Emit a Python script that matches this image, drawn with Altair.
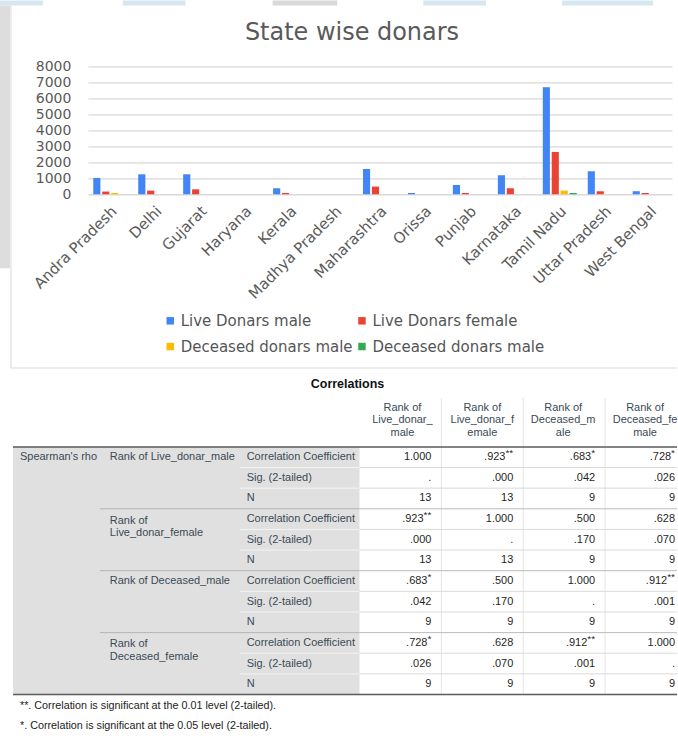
import altair as alt
import pandas as pd

# ---------------------------------------------------------------
# Bar chart: state wise donors
# ---------------------------------------------------------------
states = ["Andra Pradesh", "Delhi", "Gujarat", "Haryana", "Kerala", "Madhya Pradesh",
          "Maharashtra", "Orissa", "Punjab", "Karnataka", "Tamil Nadu", "Uttar Pradesh",
          "West Bengal"]
series_names = ["Live Donars male", "Live Donars female",
                "Deceased donars male", "Deceased donars female"]
live_male = [1020, 1250, 1250, 0, 375, 0, 1580, 80, 580, 1190, 6700, 1440, 190]
live_female = [170, 230, 310, 0, 80, 0, 480, 0, 80, 375, 2650, 190, 80]
deceased_male = [80, 0, 0, 0, 0, 0, 0, 0, 0, 0, 230, 0, 0]
deceased_female = [0, 0, 0, 0, 0, 0, 0, 0, 0, 0, 80, 0, 0]
series_colors = ["#4285f4", "#ea4335", "#fbbc04", "#34a853"]
y_ticks = [0, 1000, 2000, 3000, 4000, 5000, 6000, 7000, 8000]
chart_title = "State wise donars"

# ---------------------------------------------------------------
# Correlation table (Spearman's rho)
# ---------------------------------------------------------------
table_title = "Correlations"
method_label = "Spearman's rho"
col_headers = [["Rank of", "Live_donar_", "male"],
               ["Rank of", "Live_donar_f", "emale"],
               ["Rank of", "Deceased_m", "ale"],
               ["Rank of", "Deceased_fe", "male"]]
row_vars = [["Rank of Live_donar_male"],
            ["Rank of", "Live_donar_female"],
            ["Rank of Deceased_male"],
            ["Rank of", "Deceased_female"]]
stat_labels = ["Correlation Coefficient", "Sig. (2-tailed)", "N"]
coef = [["1.000", ".923", ".683", ".728"],
        [".923", "1.000", ".500", ".628"],
        [".683", ".500", "1.000", ".912"],
        [".728", ".628", ".912", "1.000"]]
coef_marks = [["", "**", "*", "*"],
              ["**", "", "", ""],
              ["*", "", "", "**"],
              ["*", "", "**", ""]]
sig = [[".", ".000", ".042", ".026"],
       [".000", ".", ".170", ".070"],
       [".042", ".170", ".", ".001"],
       [".026", ".070", ".001", "."]]
n_obs = [["13", "13", "9", "9"],
         ["13", "13", "9", "9"],
         ["9", "9", "9", "9"],
         ["9", "9", "9", "9"]]
footnotes = ["**. Correlation is significant at the 0.01 level (2-tailed).",
             "*. Correlation is significant at the 0.05 level (2-tailed)."]

# ---------------------------------------------------------------
# Page layout (pixels)
# ---------------------------------------------------------------
PAGE_W, PAGE_H = 678, 736
PLOT_LEFT, PLOT_TOP, PLOT_W, PLOT_H = 88, 66, 585, 128
TABLE_TOP = 368

CHART_FONT = "DejaVu Sans"
TABLE_FONT = "Liberation Sans"
CHART_INK = "#5a5a5a"
LABEL_INK = "#3a4a55"
VALUE_INK = "#1f1f1f"

ROW_TOP, ROW_H = 447, 248 / 12
GRID_LEFT, GRID_RIGHT = 13, 678
LABEL_X = [20, 110, 247]
DATA_LEFT = 360
DATA_SEPS = [442, 524, 606]
VALUE_RIGHT = [432, 514, 596, 676]
HEADER_X = [403, 483, 564, 646]
HEADER_Y = [408, 420.5, 433]
TITLE_XY = (348, 384)
FOOT_X, FOOT_Y = 20, [707, 727]


def row_mid(r):
    return ROW_TOP + (r + 0.5) * ROW_H


def row_edge(r):
    return ROW_TOP + r * ROW_H


# ---------------------------------------------------------------
# Bar chart
# ---------------------------------------------------------------
bar_rows = []
for i, st in enumerate(states):
    for name, vals in zip(series_names, [live_male, live_female, deceased_male, deceased_female]):
        bar_rows.append({"state": st, "series": name, "donors": vals[i]})
bar_df = pd.DataFrame(bar_rows)

bars = alt.Chart(bar_df).mark_bar().encode(
    x=alt.X("state:N", sort=states,
            scale=alt.Scale(paddingInner=0.245, paddingOuter=0.12),
            axis=alt.Axis(title=None, labelAngle=-45, labelFontSize=15,
                          labelColor=CHART_INK, labelPadding=9, labelOffset=-1,
                          ticks=False, domain=False, labelOverlap=False, grid=False)),
    xOffset=alt.XOffset("series:N", sort=series_names,
                        scale=alt.Scale(paddingInner=0.2)),
    y=alt.Y("donors:Q", scale=alt.Scale(domain=[0, 8000], nice=False),
            axis=alt.Axis(title=None, values=y_ticks, format="d", grid=True,
                          gridColor="#d9d9d9", gridWidth=1.3, domain=False, ticks=False,
                          labelFontSize=14, labelColor=CHART_INK, labelPadding=17)),
    color=alt.Color("series:N", sort=series_names,
                    scale=alt.Scale(domain=series_names, range=series_colors),
                    legend=alt.Legend(
                        title=None, orient="none", legendX=75, legendY=247,
                        direction="horizontal", columns=2, symbolType="square",
                        symbolSize=56, symbolStrokeWidth=0, labelFontSize=15,
                        labelColor="#555555", labelLimit=260, labelOffset=3,
                        columnPadding=1, rowPadding=10, padding=0,
                        labelExpr="datum.label == 'Deceased donars female' ? "
                                  "'Deceased donars male' : datum.label")),
).properties(
    width=PLOT_W, height=PLOT_H,
    title=alt.TitleParams(chart_title, fontSize=24, fontWeight="normal",
                          color=CHART_INK, anchor="middle", dx=-28, offset=14),
)

# ---------------------------------------------------------------
# Table: page-pixel scales (left/up values extrapolate past origin)
# ---------------------------------------------------------------
X_SCALE = alt.Scale(domain=[PLOT_LEFT, PAGE_W], nice=False, zero=False)
Y_SCALE = alt.Scale(domain=[TABLE_TOP, PAGE_H], nice=False, zero=False, reverse=True)


def px(field):
    return alt.X(f"{field}:Q", scale=X_SCALE, axis=None)


def py(field):
    return alt.Y(f"{field}:Q", scale=Y_SCALE, axis=None)


# filled areas: page frame strip, tab band, label block
rect_rows = [{"x0": 0, "x1": 10, "y0": 5, "y1": 268, "fill": "#dddddd"}]
tab_band = [(0, 43, "#d6e7f0"), (43, 123, "#ffffff"), (123, 186, "#d6e7f0"),
            (186, 273, "#ffffff"), (273, 338, "#d9d9d9"), (338, 424, "#ffffff"),
            (424, 487, "#d6e7f0"), (487, 563, "#ffffff"), (563, 654, "#d6e7f0"),
            (654, 678, "#ffffff")]
for a, b, c in tab_band:
    rect_rows.append({"x0": a, "x1": b, "y0": 0, "y1": 5, "fill": c})
rect_rows.append({"x0": GRID_LEFT, "x1": DATA_LEFT, "y0": row_edge(0), "y1": row_edge(12),
                  "fill": "#e0e0e0"})
rect_df = pd.DataFrame(rect_rows)

# lines
rule_rows = [
    {"x0": 11, "x1": 11, "y0": 5, "y1": TABLE_TOP, "stroke": "#d9d9d9", "w": 1},
    {"x0": 11, "x1": PAGE_W, "y0": TABLE_TOP, "y1": TABLE_TOP, "stroke": "#d9d9d9", "w": 1},
]
for sx in DATA_SEPS:
    rule_rows.append({"x0": sx, "x1": sx, "y0": 398, "y1": row_edge(12),
                      "stroke": "#e4e4e4", "w": 1})
for r in range(1, 12):
    y = row_edge(r)
    if r % 3:
        rule_rows.append({"x0": 240, "x1": DATA_LEFT, "y0": y, "y1": y, "stroke": "#f4f4f4", "w": 1})
        rule_rows.append({"x0": DATA_LEFT, "x1": GRID_RIGHT, "y0": y, "y1": y, "stroke": "#dadada", "w": 1})
    else:
        rule_rows.append({"x0": 100, "x1": DATA_LEFT, "y0": y, "y1": y, "stroke": "#b4b4b4", "w": 1})
        rule_rows.append({"x0": DATA_LEFT, "x1": GRID_RIGHT, "y0": y, "y1": y, "stroke": "#bcbcbc", "w": 1})
for y in (row_edge(0), row_edge(12)):
    rule_rows.append({"x0": GRID_LEFT, "x1": GRID_RIGHT, "y0": y, "y1": y, "stroke": "#5a5a5a", "w": 1.5})
rule_df = pd.DataFrame(rule_rows)

# left-aligned text: row labels and footnotes
left_rows = [{"x": LABEL_X[0], "y": row_mid(0), "t": method_label, "fs": 11, "ink": LABEL_INK}]
for g, lines in enumerate(row_vars):
    base = 3 * g
    if len(lines) == 1:
        left_rows.append({"x": LABEL_X[1], "y": row_mid(base), "t": lines[0], "fs": 11, "ink": LABEL_INK})
    else:
        for k, ln in enumerate(lines):
            left_rows.append({"x": LABEL_X[1], "y": row_mid(base) + 1.5 + 12.5 * k, "t": ln,
                              "fs": 11, "ink": LABEL_INK})
    for s, lab in enumerate(stat_labels):
        left_rows.append({"x": LABEL_X[2], "y": row_mid(base + s), "t": lab, "fs": 11, "ink": LABEL_INK})
for fy, ft in zip(FOOT_Y, footnotes):
    left_rows.append({"x": FOOT_X, "y": fy, "t": ft, "fs": 10.8, "ink": "#222222"})
left_df = pd.DataFrame(left_rows)

# centred column headers
head_rows = []
for c, lines in enumerate(col_headers):
    for k, ln in enumerate(lines):
        head_rows.append({"x": HEADER_X[c], "y": HEADER_Y[k], "t": ln, "fs": 11, "ink": LABEL_INK})
head_df = pd.DataFrame(head_rows)

title_df = pd.DataFrame([{"x": TITLE_XY[0], "y": TITLE_XY[1], "t": table_title}])

# right-aligned cell values and their significance marks
STAR_W = 3.9
val_rows, mark_rows = [], []
for g in range(4):
    for c in range(4):
        stars = coef_marks[g][c]
        cells = [(coef[g][c], stars), (sig[g][c], ""), (n_obs[g][c], "")]
        for s, (txt, st) in enumerate(cells):
            y = row_mid(3 * g + s)
            val_rows.append({"x": VALUE_RIGHT[c] - STAR_W * len(st), "y": y, "t": txt})
            if st:
                mark_rows.append({"x": VALUE_RIGHT[c], "y": y, "t": st})
val_df = pd.DataFrame(val_rows)
mark_df = pd.DataFrame(mark_rows)

rects = alt.Chart(rect_df).mark_rect(strokeWidth=0).encode(
    x=px("x0"), x2=alt.X2("x1"), y=py("y0"), y2=alt.Y2("y1"),
    fill=alt.Fill("fill:N", scale=None))

rules = alt.Chart(rule_df).mark_rule().encode(
    x=px("x0"), x2=alt.X2("x1"), y=py("y0"), y2=alt.Y2("y1"),
    stroke=alt.Stroke("stroke:N", scale=None), size=alt.Size("w:Q", scale=None))

left_text = alt.Chart(left_df).mark_text(align="left", baseline="middle", font=TABLE_FONT).encode(
    x=px("x"), y=py("y"), text="t:N",
    fill=alt.Fill("ink:N", scale=None), size=alt.Size("fs:Q", scale=None))

head_text = alt.Chart(head_df).mark_text(align="center", baseline="middle", font=TABLE_FONT).encode(
    x=px("x"), y=py("y"), text="t:N",
    fill=alt.Fill("ink:N", scale=None), size=alt.Size("fs:Q", scale=None))

title_text = alt.Chart(title_df).mark_text(
    align="center", baseline="middle", font=TABLE_FONT, fontSize=12.5,
    fontWeight="bold", color="#111111").encode(x=px("x"), y=py("y"), text="t:N")

val_text = alt.Chart(val_df).mark_text(
    align="right", baseline="middle", font=TABLE_FONT, fontSize=11,
    color=VALUE_INK).encode(x=px("x"), y=py("y"), text="t:N")

mark_text = alt.Chart(mark_df).mark_text(
    align="right", baseline="middle", font=TABLE_FONT, fontSize=10, dy=-4,
    color=VALUE_INK).encode(x=px("x"), y=py("y"), text="t:N")

table = alt.layer(rects, rules, left_text, head_text, title_text, val_text, mark_text).properties(
    width=PAGE_W - PLOT_LEFT, height=PAGE_H - TABLE_TOP)

chart = alt.vconcat(
    bars, table, spacing=TABLE_TOP - (PLOT_TOP + PLOT_H), bounds="flush"
).resolve_scale(color="independent").resolve_legend(color="independent").properties(
    padding=0, background="white"
).configure_view(strokeWidth=0).configure_axis(
    labelFont=CHART_FONT
).configure_legend(labelFont=CHART_FONT).configure_title(font=CHART_FONT)

chart.save("out.html", embed_options={"renderer": "svg", "actions": False})
